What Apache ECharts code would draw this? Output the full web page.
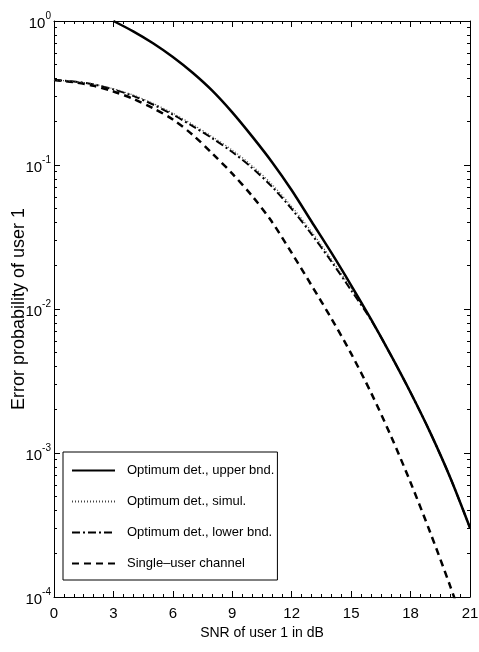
<!DOCTYPE html>
<html>
<head>
<meta charset="utf-8">
<script src="https://cdn.jsdelivr.net/npm/echarts@6/dist/echarts.min.js"></script>
<style>
  html, body { margin: 0; padding: 0; background: #fff; }
  #chart { width: 479px; height: 652px; }
</style>
</head>
<body>
<div id="chart"></div>
<script>
const FONT = "'Liberation Sans', Arial, sans-serif";

// SNR of user 1 in dB
const snr = [0, 1, 2, 3, 4, 5, 6, 7, 8, 9, 10, 11, 12, 13, 14, 15, 16, 17, 18, 19, 20, 21];

const seriesNames = [
  "Optimum det., upper bnd.",
  "Optimum det., simul.",
  "Optimum det., lower bnd.",
  "Single\u2013user channel",
];

// error probability of user 1 (null = off the chart)
const upperBound = [null, null, null, 1.0, 0.847, 0.700, 0.562, 0.437, 0.327, 0.232, 0.158, 0.105,
  0.0668, 0.0405, 0.0246, 0.0146, 0.0085, 0.0048, 0.00263, 0.00138, 0.000676, 0.000302];
const simulated = [0.389, 0.381, 0.365, 0.338, 0.306, 0.268, 0.229, 0.191, 0.157, 0.127, 0.099, 0.0735,
  0.0515, 0.0345, 0.0222, 0.0139, 0.0085, 0.0048];
const lowerBound = [0.389, 0.380, 0.363, 0.335, 0.302, 0.263, 0.224, 0.186, 0.153, 0.123, 0.0955, 0.0708,
  0.0495, 0.0331, 0.0214, 0.0135, 0.00841, 0.00479, 0.00263, 0.00138, 0.000676, 0.000302];
const singleUser = [0.389, 0.376, 0.355, 0.324, 0.288, 0.248, 0.207, 0.162, 0.120, 0.0871, 0.0610, 0.0403,
  0.0245, 0.0146, 0.00861, 0.00490, 0.00263, 0.00132, 0.000624, 0.000279, 0.000119, 0.0000479];

// minor tick positions of the log axis (log10 of 2..9 x 10^n)
const minorLogTicks = [];
for (let n = -4; n < 0; n++) {
  for (let k = 2; k <= 9; k++) minorLogTicks.push(n + Math.log10(k));
}

function pairs(values) {
  const out = [];
  values.forEach((v, i) => { if (v != null) out.push([snr[i], v]); });
  return out;
}

const chart = echarts.init(document.getElementById("chart"), null, { renderer: "canvas" });

const xBase = {
  type: "value", min: 0, max: 21, interval: 3,
  axisLine: { show: true, onZero: false, lineStyle: { color: "#000", width: 1 } },
  axisTick: { show: true, inside: true, length: 6, lineStyle: { color: "#000" } },
  minorTick: { show: true, splitNumber: 6, length: 3, lineStyle: { color: "#000" } },
  splitLine: { show: false },
};
const yLogBase = {
  type: "log", min: 1e-4, max: 1, logBase: 10,
  axisLine: { show: true, onZero: false, lineStyle: { color: "#000", width: 1 } },
  axisTick: { show: true, inside: true, length: 6, lineStyle: { color: "#000" } },
  splitLine: { show: false },
};
const yMinorBase = {
  type: "value", min: -4, max: 0,
  axisLine: { show: false, onZero: false },
  axisLabel: { show: false },
  splitLine: { show: false },
  axisTick: { show: true, inside: true, length: 3, customValues: minorLogTicks, lineStyle: { color: "#000" } },
};

const option = {
  backgroundColor: "#fff",
  animation: false,
  grid: { left: 54, right: 9, top: 21, bottom: 55, containLabel: false, outerBoundsMode: "none" },
  legend: {
    orient: "vertical",
    left: 63, top: 452,
    padding: [12, 3, 10, 8],
    itemGap: 18, itemWidth: 43, itemHeight: 14,
    borderColor: "#000", borderWidth: 1, borderRadius: 0,
    backgroundColor: "#fff",
    itemStyle: { opacity: 0 },
    textStyle: { fontFamily: FONT, fontSize: 13, color: "#000", padding: [0, 0, 0, 7] },
    data: seriesNames,
  },
  xAxis: [
    Object.assign({}, xBase, {
      position: "bottom",
      name: "SNR of user 1 in dB",
      nameLocation: "middle",
      nameGap: 29,
      nameMoveOverlap: false,
      nameTextStyle: { fontFamily: FONT, fontSize: 14, color: "#000" },
      axisLabel: { fontFamily: FONT, fontSize: 15, color: "#000", margin: 9 },
    }),
    Object.assign({}, xBase, { position: "top", axisLabel: { show: false } }),
  ],
  yAxis: [
    Object.assign({}, yLogBase, {
      position: "left",
      name: "Error probability of user 1",
      nameLocation: "middle",
      nameGap: 26,
      nameMoveOverlap: false,
      nameTextStyle: { fontFamily: FONT, fontSize: 18, color: "#000" },
      axisLabel: {
        margin: 3,
        formatter: (v) => "{b|10}{s|" + Math.round(Math.log10(v)) + "}",
        rich: {
          b: { fontFamily: FONT, fontSize: 15, color: "#000", verticalAlign: "bottom", lineHeight: 20 },
          s: { fontFamily: FONT, fontSize: 10, color: "#000", verticalAlign: "top", lineHeight: 10 },
        },
      },
    }),
    Object.assign({}, yLogBase, { position: "right", axisLabel: { show: false } }),
    Object.assign({}, yMinorBase, { position: "left" }),
    Object.assign({}, yMinorBase, { position: "right" }),
  ],
  series: [
    {
      name: seriesNames[0], type: "line", data: pairs(upperBound), showSymbol: false, symbol: "none",
      smooth: 0.3, z: 4, lineStyle: { color: "#000", width: 2.5, type: "solid" }, itemStyle: { color: "#000" },
    },
    {
      name: seriesNames[1], type: "line", data: pairs(simulated), showSymbol: false, symbol: "none",
      smooth: 0.3, z: 3, lineStyle: { color: "#444", width: 1.2, type: [1, 2] }, itemStyle: { color: "#444" },
    },
    {
      name: seriesNames[2], type: "line", data: pairs(lowerBound), showSymbol: false, symbol: "none",
      smooth: 0.3, z: 2, lineStyle: { color: "#000", width: 2, type: [8, 3, 2, 3] }, itemStyle: { color: "#000" },
    },
    {
      name: seriesNames[3], type: "line", data: pairs(singleUser), showSymbol: false, symbol: "none",
      smooth: 0.3, z: 1, lineStyle: { color: "#000", width: 2.5, type: [7, 5] }, itemStyle: { color: "#000" },
    },
  ],
};

chart.setOption(option);
</script>
</body>
</html>
